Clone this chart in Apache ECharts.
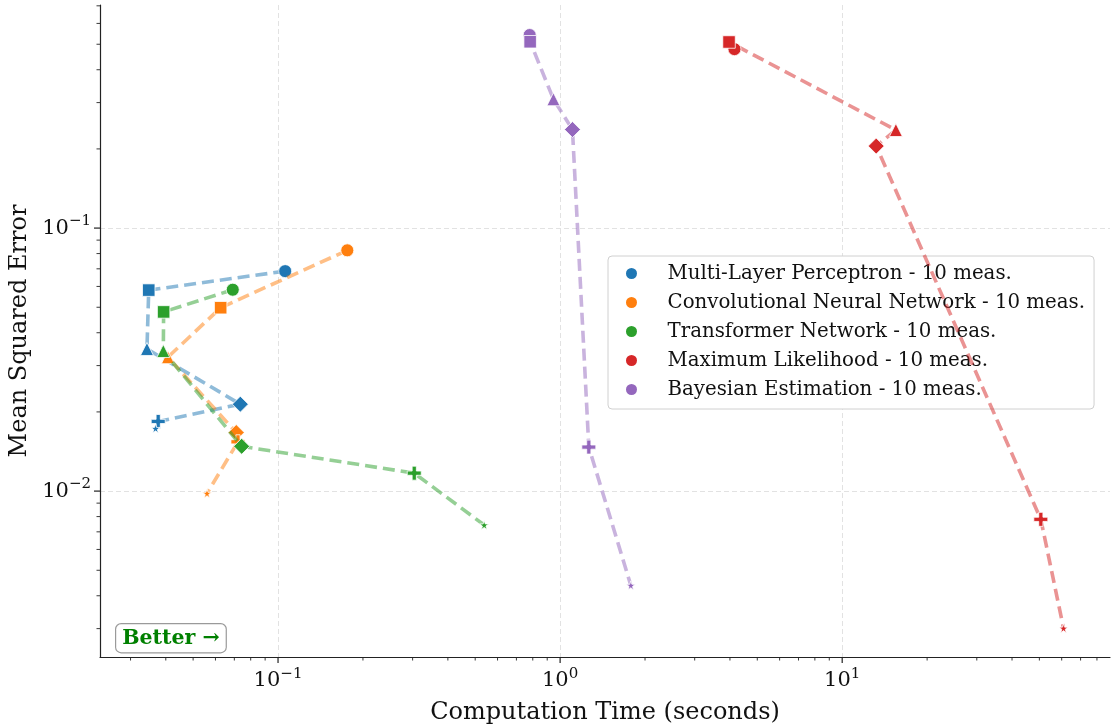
<!DOCTYPE html>
<html>
<head>
<meta charset="utf-8">
<script src="https://cdn.jsdelivr.net/npm/echarts@6/dist/echarts.min.js"></script>
<style>
  html, body { margin: 0; padding: 0; background: #ffffff; }
  #chart { width: 1113px; height: 728px; }
</style>
</head>
<body>
<div id="chart"></div>
<script>
// Methods compared and how many measurements each one has
const methods = ['Multi-Layer Perceptron', 'Convolutional Neural Network', 'Transformer Network', 'Maximum Likelihood', 'Bayesian Estimation'];
const measurementCounts = [10, 10, 10, 10, 10];
const methodColors = ['#1f77b4', '#ff7f0e', '#2ca02c', '#d62728', '#9467bd'];

// Computation time (s) and mean squared error for the six configurations of each method
const mlpTime = [0.106, 0.0348, 0.0343, 0.0735, 0.0376, 0.0368];
const mlpMse  = [0.0686, 0.0581, 0.0347, 0.0214, 0.0184, 0.0173];
const cnnTime = [0.176, 0.0626, 0.0407, 0.0711, 0.0721, 0.0560];
const cnnMse  = [0.0823, 0.0498, 0.0323, 0.0167, 0.0154, 0.0098];
const trfTime = [0.0691, 0.0393, 0.0392, 0.0743, 0.304, 0.538];
const trfMse  = [0.0583, 0.0480, 0.0341, 0.0148, 0.0117, 0.00743];
const mleTime = [4.15, 3.97, 15.5, 13.2, 50.6, 60.9];
const mleMse  = [0.479, 0.510, 0.236, 0.205, 0.00781, 0.00301];
const bayTime = [0.780, 0.783, 0.947, 1.106, 1.264, 1.781];
const bayMse  = [0.542, 0.511, 0.309, 0.237, 0.0147, 0.00438];

const timeSeries = [mlpTime, cnnTime, trfTime, mleTime, bayTime];
const mseSeries  = [mlpMse, cnnMse, trfMse, mleMse, bayMse];

// Marker shape for each configuration (same order in every method)
const PLUS_PATH = 'path://M3.5,0H6.5V3.5H10V6.5H6.5V10H3.5V6.5H0V3.5H3.5Z';
const STAR_PATH = 'path://M0,-1L0.2245,-0.309L0.951,-0.309L0.363,0.118L0.588,0.809L0,0.382L-0.588,0.809L-0.363,0.118L-0.951,-0.309L-0.2245,-0.309Z';
const stageSymbols = ['circle', 'rect', 'triangle', 'diamond', PLUS_PATH, STAR_PATH];
const stageSizes   = [13, 12.5, 13, 16, 14, 9];

// Axis extents (log scale)
const X_MIN = 0.02338, X_MAX = 89.0;
const Y_MIN = 0.00234, Y_MAX = 0.705;

const FONT = '"DejaVu Serif", "Liberation Serif", serif';

function powerLabel(v) {
  const e = Math.round(Math.log10(v));
  if (Math.abs(Math.log10(v) - e) > 1e-6) return '';
  return '{b|10}{s|' + (e < 0 ? '\u2212' + (-e) : String(e)) + '}';
}

const labelRich = {
  b: { fontFamily: FONT, fontSize: 21, color: '#111', lineHeight: 28, verticalAlign: 'middle' },
  s: { fontFamily: FONT, fontSize: 15, color: '#111', lineHeight: 18, verticalAlign: 'top' }
};

// Major and minor log ticks on both axes, placed through the axis scales
function logTickValues(lo, hi) {
  const out = [];
  for (let e = -4; e <= 3; e++) {
    for (let k = 1; k <= 9; k++) {
      const v = k * Math.pow(10, e);
      if (v >= lo && v <= hi) out.push({ v: v, major: k === 1 });
    }
  }
  return out;
}

function renderTicks(params, api) {
  const children = [];
  logTickValues(X_MIN, X_MAX).forEach(function (t) {
    const p = api.coord([t.v, Y_MIN]);
    const len = t.major ? 6 : 3.5;
    children.push({
      type: 'line',
      shape: { x1: p[0], y1: p[1], x2: p[0], y2: p[1] + len },
      style: { stroke: '#222', lineWidth: t.major ? 1.2 : 0.9 }
    });
  });
  logTickValues(Y_MIN, Y_MAX).forEach(function (t) {
    const p = api.coord([X_MIN, t.v]);
    const len = t.major ? 6 : 3.5;
    children.push({
      type: 'line',
      shape: { x1: p[0], y1: p[1], x2: p[0] - len, y2: p[1] },
      style: { stroke: '#222', lineWidth: t.major ? 1.2 : 0.9 }
    });
  });
  return { type: 'group', children: children };
}

const seriesNames = methods.map(function (m, i) { return m + ' - ' + measurementCounts[i] + ' meas.'; });

const methodSeries = methods.map(function (m, i) {
  const data = timeSeries[i].map(function (t, j) {
    return {
      value: [t, mseSeries[i][j]],
      symbol: stageSymbols[j],
      symbolSize: stageSizes[j]
    };
  });
  return {
    name: seriesNames[i],
    type: 'line',
    data: data,
    showSymbol: true,
    showAllSymbol: true,
    color: methodColors[i],
    lineStyle: { color: methodColors[i], width: 3.6, type: [12, 6], opacity: 0.5 },
    itemStyle: { color: methodColors[i], opacity: 1, borderColor: '#ffffff', borderWidth: 0.8 },
    emphasis: { disabled: true },
    z: 3 + i
  };
});

const chart = echarts.init(document.getElementById('chart'), null, { renderer: 'canvas' });

chart.setOption({
  animation: false,
  backgroundColor: '#ffffff',
  grid: { left: 100, right: 3, top: 5, bottom: 71, containLabel: false, outerBoundsMode: 'none' },
  xAxis: {
    type: 'log',
    logBase: 10,
    min: X_MIN,
    max: X_MAX,
    name: 'Computation Time (seconds)',
    nameLocation: 'middle',
    nameGap: 44,
    nameTextStyle: { fontFamily: FONT, fontSize: 24, color: '#111' },
    axisLine: { show: true, lineStyle: { color: '#222', width: 1.2 } },
    axisTick: { show: false },
    minorTick: { show: false },
    axisLabel: {
      margin: 10,
      formatter: powerLabel,
      rich: labelRich,
      showMinLabel: false,
      showMaxLabel: false
    },
    splitLine: {
      show: true,
      showMinLine: false,
      showMaxLine: false,
      lineStyle: { color: '#e2e2e2', width: 1, type: [5, 3] }
    }
  },
  yAxis: {
    type: 'log',
    logBase: 10,
    min: Y_MIN,
    max: Y_MAX,
    name: 'Mean Squared Error',
    nameLocation: 'middle',
    nameGap: 66,
    nameRotate: 90,
    nameTextStyle: { fontFamily: FONT, fontSize: 24, color: '#111' },
    axisLine: { show: true, lineStyle: { color: '#222', width: 1.2 } },
    axisTick: { show: false },
    minorTick: { show: false },
    axisLabel: {
      margin: 9,
      formatter: powerLabel,
      rich: labelRich,
      showMinLabel: false,
      showMaxLabel: false
    },
    splitLine: {
      show: true,
      showMinLine: false,
      showMaxLine: false,
      lineStyle: { color: '#e2e2e2', width: 1, type: [5, 3] }
    }
  },
  legend: {
    orient: 'vertical',
    left: 608,
    top: 256,
    padding: [6, 9, 8, 18],
    itemGap: 6,
    itemWidth: 20,
    itemHeight: 11,
    icon: 'circle',
    backgroundColor: '#ffffff',
    borderColor: '#d0d0d0',
    borderWidth: 1,
    borderRadius: 4,
    selectedMode: false,
    textStyle: { fontFamily: FONT, fontSize: 19.8, color: '#111', lineHeight: 23, padding: [0, 0, 0, 21] },
    data: seriesNames.map(function (n, i) {
      return { name: n, icon: 'circle', itemStyle: { color: methodColors[i], opacity: 1, borderWidth: 0 } };
    })
  },
  graphic: [
    {
      type: 'text',
      left: 115,
      top: 623,
      z: 100,
      style: {
        text: 'Better \u2192',
        font: 'bold 20.5px ' + FONT,
        fill: '#008000',
        backgroundColor: '#ffffff',
        borderColor: '#9a9a9a',
        borderWidth: 1.2,
        borderRadius: 5,
        padding: [4, 6, 3, 6]
      }
    }
  ],
  series: methodSeries.concat([
    {
      type: 'custom',
      name: 'ticks',
      silent: true,
      clip: false,
      z: 20,
      renderItem: renderTicks,
      data: [[1, 0.01]]
    }
  ])
});
</script>
</body>
</html>
